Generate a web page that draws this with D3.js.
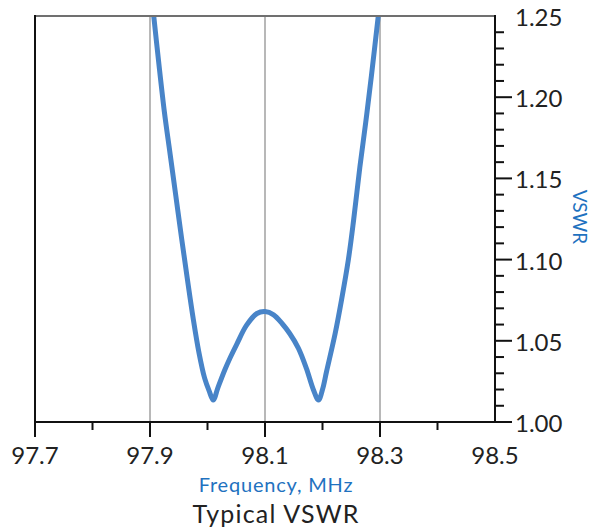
<!DOCTYPE html>
<html><head><meta charset="utf-8">
<script src="https://cdn.jsdelivr.net/npm/d3@7"></script>
<style>body{margin:0;background:#fff}svg{display:block}</style>
</head><body>
<svg id="c" width="597" height="529"></svg>
<script>
const freq = [97.900, 97.905, 97.915, 97.925, 97.935, 97.945, 97.955, 97.965, 97.975, 97.985, 97.995, 98.003, 98.010, 98.018, 98.030, 98.040, 98.051, 98.068, 98.086, 98.100, 98.115, 98.130, 98.143, 98.158, 98.172, 98.184, 98.193, 98.200, 98.207, 98.222, 98.233, 98.245, 98.254, 98.265, 98.275, 98.285, 98.297, 98.302];
const vswr = [1.272, 1.255, 1.222, 1.191, 1.165, 1.139, 1.113, 1.088, 1.064, 1.043, 1.027, 1.019, 1.0135, 1.021, 1.032, 1.040, 1.048, 1.0596, 1.0668, 1.068, 1.066, 1.0605, 1.0545, 1.0455, 1.033, 1.020, 1.0135, 1.020, 1.031, 1.0545, 1.075, 1.100, 1.124, 1.157, 1.184, 1.213, 1.250, 1.265];
const xMajor = [97.7, 97.9, 98.1, 98.3, 98.5];
const xMinor = [97.8, 98.0, 98.2, 98.4];
const xLabels = ["97.7", "97.9", "98.1", "98.3", "98.5"];
const gridX = [97.9, 98.1, 98.3];
const yMajor = [1.00, 1.05, 1.10, 1.15, 1.20];
const yLabels = ["1.00", "1.05", "1.10", "1.15", "1.20", "1.25"];
const yLabelVals = [1.00, 1.05, 1.10, 1.15, 1.20, 1.25];
const yMinor = [1.01,1.02,1.03,1.04,1.06,1.07,1.08,1.09,1.11,1.12,1.13,1.14,1.16,1.17,1.18,1.19,1.21,1.22,1.23,1.24];

const svg = d3.select("#c");
const L = 35, R = 495, T = 16, B = 422;
const x = d3.scaleLinear().domain([97.7, 98.5]).range([L, R]);
const y = d3.scaleLinear().domain([1.0, 1.25]).range([B, T]);
const font = "Lato, 'Open Sans', sans-serif";

// grid
svg.append("g").selectAll("line").data(gridX).join("line")
  .attr("x1", d => x(d)).attr("x2", d => x(d)).attr("y1", T).attr("y2", B)
  .attr("stroke", "#b8b8b8").attr("stroke-width", 2);

// clip + curve
svg.append("clipPath").attr("id", "clip").append("rect")
  .attr("x", L).attr("y", T).attr("width", R - L).attr("height", B - T);
const pts = freq.map((f, i) => [f, vswr[i]]);
svg.append("path").datum(pts)
  .attr("clip-path", "url(#clip)")
  .attr("fill", "none").attr("stroke", "#4884c8").attr("stroke-width", 5)
  .attr("stroke-linejoin", "round").attr("stroke-linecap", "round")
  .attr("d", d3.line().x(d => x(d[0])).y(d => y(d[1])).curve(d3.curveCatmullRom.alpha(0.5)));

// frame
svg.append("line").attr("x1", L).attr("x2", R).attr("y1", T).attr("y2", T)
  .attr("stroke", "#707070").attr("stroke-width", 2);
svg.append("line").attr("x1", L).attr("x2", L).attr("y1", T - 1).attr("y2", B)
  .attr("stroke", "#111").attr("stroke-width", 2);

// bottom axis
const gx = svg.append("g").attr("transform", `translate(0,${B})`);
gx.append("line").attr("x1", L).attr("x2", R).attr("stroke", "#111").attr("stroke-width", 2);
gx.selectAll("line.maj").data(xMajor.filter(d => d < 98.5)).join("line").attr("class", "maj")
  .attr("x1", d => x(d)).attr("x2", d => x(d)).attr("y1", 0).attr("y2", 15)
  .attr("stroke", "#111").attr("stroke-width", 2);
gx.selectAll("line.min").data(xMinor).join("line").attr("class", "min")
  .attr("x1", d => x(d)).attr("x2", d => x(d)).attr("y1", 0).attr("y2", 8)
  .attr("stroke", "#111").attr("stroke-width", 2);
gx.selectAll("text").data(xMajor).join("text")
  .attr("x", d => x(d)).attr("y", 42).attr("text-anchor", "middle")
  .attr("font-family", font).attr("font-size", 24).attr("fill", "#222")
  .text((d, i) => xLabels[i]);

// right axis
const gy = svg.append("g").attr("transform", `translate(${R},0)`);
gy.append("line").attr("y1", T - 1).attr("y2", B + 1).attr("stroke", "#111").attr("stroke-width", 2);
gy.selectAll("line.maj").data(yMajor).join("line").attr("class", "maj")
  .attr("x1", 0).attr("x2", 17).attr("y1", d => y(d)).attr("y2", d => y(d))
  .attr("stroke", "#111").attr("stroke-width", 2);
gy.selectAll("line.min").data(yMinor).join("line").attr("class", "min")
  .attr("x1", 0).attr("x2", 9).attr("y1", d => y(d)).attr("y2", d => y(d))
  .attr("stroke", "#111").attr("stroke-width", 2);
gy.selectAll("text").data(yLabelVals).join("text")
  .attr("x", 20).attr("y", d => y(d) + 10).attr("text-anchor", "start")
  .attr("font-family", font).attr("font-size", 24).attr("fill", "#222")
  .text((d, i) => yLabels[i]);

// titles
svg.append("text").attr("x", 276).attr("y", 492).attr("text-anchor", "middle")
  .attr("font-family", font).attr("font-size", 20).attr("letter-spacing", 0.8).attr("fill", "#1f72c0")
  .text("Frequency, MHz");
svg.append("text").attr("x", 276).attr("y", 523).attr("text-anchor", "middle")
  .attr("font-family", font).attr("font-size", 25).attr("letter-spacing", 1.2).attr("fill", "#222")
  .text("Typical VSWR");
svg.append("text").attr("transform", "translate(573,217) rotate(90)").attr("text-anchor", "middle")
  .attr("font-family", font).attr("font-size", 19).attr("fill", "#1f72c0")
  .text("VSWR");
</script>
</body></html>
